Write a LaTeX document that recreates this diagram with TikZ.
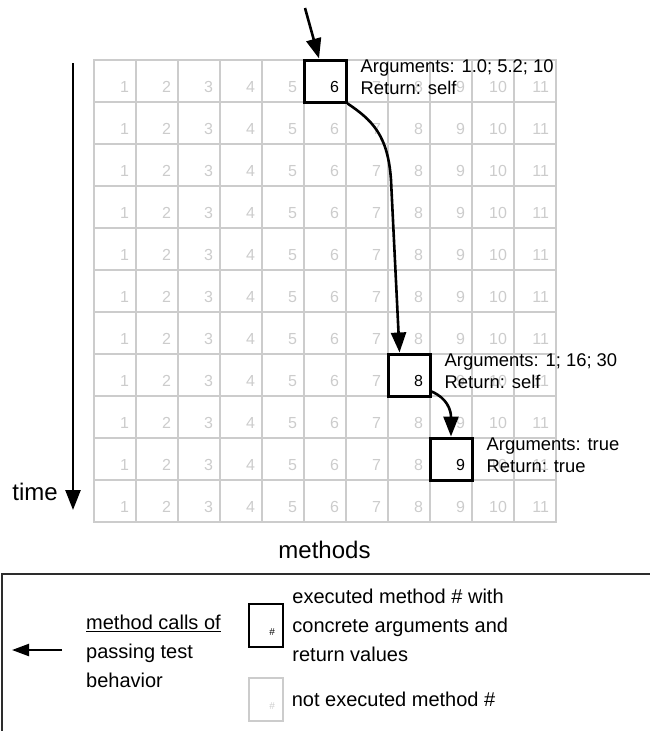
\documentclass[tikz,border=0pt]{standalone}
\usepackage{fontspec}
\setmainfont{Liberation Sans}
\usepackage{tikz}
\usetikzlibrary{arrows.meta,positioning,calc}

\definecolor{gridgray}{RGB}{204,204,204}
\definecolor{framegray}{RGB}{45,45,45}

\tikzset{
  cell/.style={rectangle, text=gridgray, line width=2pt,
    minimum size=42pt, inner xsep=7pt, text width=28pt, align=right,
    text height=22pt, text depth=0pt, font=\fontsize{16}{19}\selectfont},
  gridline/.style={draw=gridgray, line width=2pt, line cap=rect},
  executed/.style={cell, draw=black, text=black, fill=white, line width=3pt},
  call/.style={line width=2.6pt, -{Triangle[length=20pt,width=15pt]}},
  args/.style={anchor=west, align=left, inner sep=0pt, font=\fontsize{18.4}{22}\selectfont},
  legtext/.style={anchor=west, align=left, inner sep=0pt, font=\fontsize{20}{29}\selectfont},
  legbox/.style={rectangle, minimum width=34pt, minimum height=43pt, inner xsep=8pt,
    text width=18pt, align=right, text height=19pt, text depth=0pt,
    font=\fontsize{10}{12}\selectfont}
}

\begin{document}
\begin{tikzpicture}[x=1pt, y=-1pt]
  \useasboundingbox (0,0) rectangle (649,731);

  % 11 x 11 grid of methods (columns) over time (rows)
  \foreach \i in {0,...,11} {
    \draw[gridline] ({94+\i*42},60) -- ({94+\i*42},522);
    \draw[gridline] (94,{60+\i*42}) -- (556,{60+\i*42});
  }
  \foreach \r in {1,...,11} {
    \foreach \c in {1,...,11} {
      \node[cell] (cell-\r-\c) at ({94+(\c-0.5)*42}, {60+(\r-0.5)*42}) {\c};
    }
  }

  % executed methods
  \node[executed] (exec6) at (cell-1-6) {6};
  \node[executed] (exec8) at (cell-8-8) {8};
  \node[executed] (exec9) at (cell-10-9) {9};

  \node[args] (args6) at ($(exec6.north east)+(13,19)$) {Arguments: 1.0; 5.2; 10\\Return: self};
  \node[args] (args8) at ($(exec8.north east)+(13,19)$) {Arguments: 1; 16; 30\\Return: self};
  \node[args] (args9) at ($(exec9.north east)+(13,19)$) {Arguments: true\\Return: true};

  % method calls
  \coordinate (entry) at (305,8);
  \draw[call] (entry) -- ($(exec6.north)+(-6,0)$);
  \draw[call] (exec6.south east) .. controls (372,120) and (388,135) .. (391,180)
    -- ($(exec8.north)+(-9.5,0)$);
  \draw[call] ($(exec8.south east)+(0,-6)$) .. controls (447,398) and (451,410) .. (exec9.north);

  % axes
  \coordinate (tstart) at (73,63);
  \coordinate (tend) at (73,510);
  \draw[call] (tstart) -- (tend);
  \node[anchor=base east, inner sep=0pt, font=\fontsize{24}{28}\selectfont] (timelbl) at (58,500) {time};
  \node[anchor=base, inner sep=0pt, font=\fontsize{24}{28}\selectfont] (methodslbl) at (324.5,558) {methods};

  % legend
  \draw[framegray, line width=2pt] (2,733) |- (651,574);
  \coordinate (legfrom) at (62,650);
  \coordinate (legto) at (12,650);
  \draw[line width=2.2pt, -{Triangle[length=17pt,width=12pt]}] (legfrom) -- (legto);
  \node[legtext] (callstxt) at (86,651) {\underline{method calls of}\\passing test\\behavior};

  \node[legbox, draw=black, line width=2.5pt] (legexec) at (266,625.5) {\#};
  \node[legbox, draw=gridgray, line width=1.2pt, text=gridgray] (legnot) at (266,699.5) {\#};
  \node[legtext, right=8pt of legexec] (legexectxt) {executed method \# with\\concrete arguments and\\return values};
  \node[legtext, right=8pt of legnot] (legnottxt) {not executed method \#};
\end{tikzpicture}
\end{document}
